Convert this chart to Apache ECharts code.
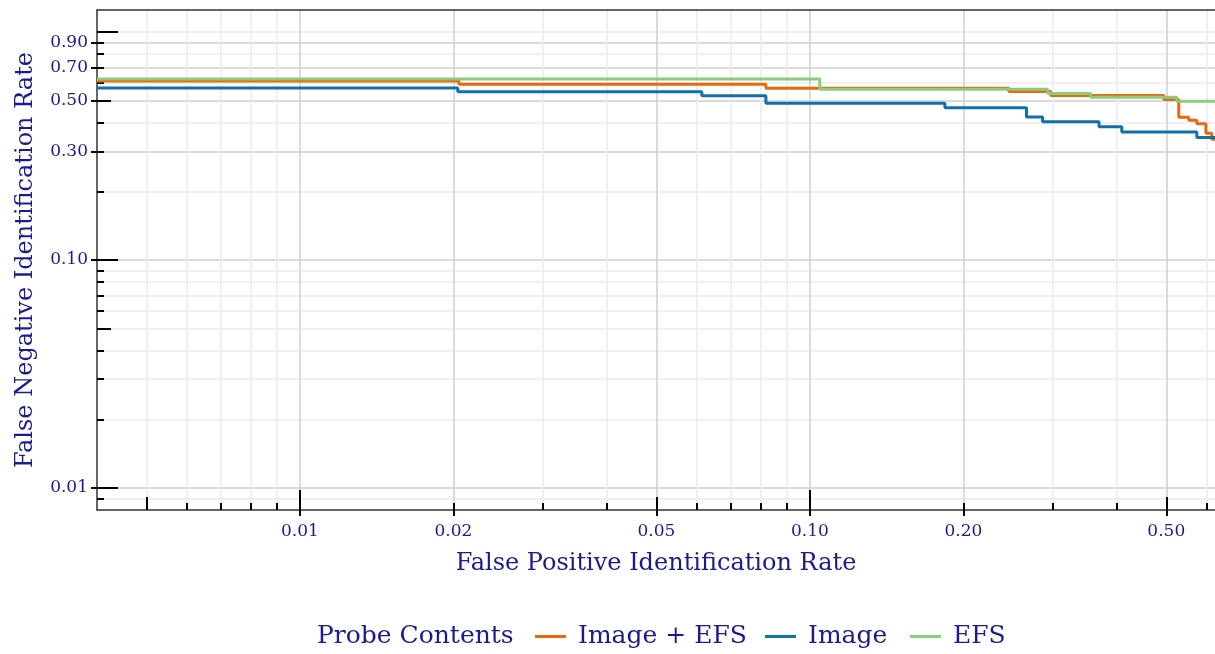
<!DOCTYPE html>
<html>
<head>
<meta charset="utf-8">
<script src="https://cdn.jsdelivr.net/npm/echarts@6/dist/echarts.min.js"></script>
<style>
html,body{margin:0;padding:0;background:#fff;}
#chart{width:1215px;height:654px;}
</style>
</head>
<body>
<div id="chart"></div>
<script>
// ---- data ----
const seriesNames = ['Image + EFS', 'Image', 'EFS'];
const imageEfs = [[0.004,0.610],[0.0205,0.590],[0.082,0.567],[0.2456,0.548],[0.2967,0.527],[0.4944,0.506],[0.529,0.423],[0.5535,0.410],[0.574,0.396],[0.598,0.3595],[0.614,0.339],[0.623,0.339]];
const imageOnly = [[0.004,0.568],[0.0204,0.547],[0.0614,0.526],[0.082,0.487],[0.184,0.466],[0.266,0.424],[0.286,0.404],[0.369,0.384],[0.409,0.364],[0.574,0.345],[0.623,0.345]];
const efsOnly = [[0.004,0.6225],[0.1046,0.561],[0.2928,0.5377],[0.3556,0.5174],[0.5243,0.4974],[0.623,0.4974]];

// tick values
const xLabelTicks = [0.01,0.02,0.05,0.1,0.2,0.5];
const xLongTicks = [0.01,0.1];
const xMidTicks = [0.005,0.05,0.5];
const xShortTicks = [0.006,0.007,0.008,0.009,0.02,0.03,0.04,0.06,0.07,0.08,0.09,0.2,0.3,0.4,0.6];
const xMinorGrid = [0.005,0.006,0.007,0.008,0.009,0.03,0.04,0.06,0.07,0.08,0.09,0.3,0.4,0.6];

const yLabelTicks = [0.01,0.1,0.3,0.5,0.7,0.9];
const yLongTicks = [0.01,0.1,1.0];
const yMidTicks = [0.05,0.5];
const yShortTicks = [0.009,0.02,0.03,0.04,0.06,0.07,0.08,0.09,0.2,0.3,0.4,0.6,0.7,0.8,0.9];
const yMinorGrid = [0.009,0.02,0.03,0.04,0.05,0.06,0.07,0.08,0.09,0.2,0.4,0.6,0.8,1.0];

const X_MIN = 0.004, X_MAX = 0.623;
const Y_MIN = 0.008, Y_MAX = 1.25;

const TXT = '#1b1b8f';
const FONT = 'DejaVu Serif';
const colors = ['#e8680f', '#1170aa', '#8acb7e'];

function baseAxis(kind, extra) {
  const a = {
    type: 'log', logBase: 10, gridIndex: 0,
    min: kind === 'x' ? X_MIN : Y_MIN,
    max: kind === 'x' ? X_MAX : Y_MAX,
    position: kind === 'x' ? 'bottom' : 'left',
    axisLine: {show: false},
    axisLabel: {show: false},
    axisTick: {show: false},
    splitLine: {show: false},
    minorTick: {show: false},
    minorSplitLine: {show: false}
  };
  return Object.assign(a, extra);
}
function tickAxis(kind, values, len) {
  return baseAxis(kind, {
    axisTick: {show: true, inside: true, length: len, customValues: values,
      lineStyle: {color: '#000', width: 2}},
    axisLabel: {show: false, customValues: values}
  });
}
function gridAxis(kind, values, color) {
  return baseAxis(kind, {
    axisTick: {show: false, customValues: values},
    axisLabel: {show: false, customValues: values},
    splitLine: {show: true, lineStyle: {color: color, width: 1.5}}
  });
}

const xAxes = [
  baseAxis('x', {
    name: 'False Positive Identification Rate',
    nameLocation: 'middle', nameGap: 42,
    nameTextStyle: {color: TXT, fontFamily: FONT, fontSize: 24},
    axisLine: {show: true, lineStyle: {color: '#333', width: 1.5}},
    axisTick: {show: true, inside: false, length: 6, customValues: xLabelTicks,
      lineStyle: {color: '#000', width: 2}},
    axisLabel: {show: true, customValues: xLabelTicks, margin: 13,
      color: TXT, fontFamily: FONT, fontSize: 17,
      formatter: v => Number(v).toFixed(2)},
    splitLine: {show: true, lineStyle: {color: '#cfcfcf', width: 1.5}}
  }),
  gridAxis('x', xMinorGrid, '#ebebeb'),
  tickAxis('x', xLongTicks, 20),
  tickAxis('x', xMidTicks, 13),
  tickAxis('x', xShortTicks, 7),
  {type: 'value', gridIndex: 0, position: 'top', min: 0, max: 1,
   axisLine: {show: true, onZero: false, lineStyle: {color: '#333', width: 1.5}},
   axisTick: {show: false}, axisLabel: {show: false}, splitLine: {show: false}}
];

const yAxes = [
  baseAxis('y', {
    name: 'False Negative Identification Rate',
    nameLocation: 'middle', nameGap: 59,
    nameTextStyle: {color: TXT, fontFamily: FONT, fontSize: 24},
    axisLine: {show: true, lineStyle: {color: '#333', width: 1.5}},
    axisTick: {show: true, inside: false, length: 6, customValues: yLabelTicks,
      lineStyle: {color: '#000', width: 2}},
    axisLabel: {show: true, customValues: yLabelTicks, margin: 9,
      color: TXT, fontFamily: FONT, fontSize: 17,
      formatter: v => Number(v).toFixed(2)},
    splitLine: {show: true, lineStyle: {color: '#cfcfcf', width: 1.5}}
  }),
  gridAxis('y', yMinorGrid, '#ebebeb'),
  tickAxis('y', yLongTicks, 21),
  tickAxis('y', yMidTicks, 14),
  tickAxis('y', yShortTicks, 7)
];

// minor grid axis first so it draws beneath the major grid
const xAxisList = [xAxes[1], xAxes[0], xAxes[2], xAxes[3], xAxes[4], xAxes[5]];
const yAxisList = [yAxes[1], yAxes[0], yAxes[2], yAxes[3], yAxes[4]];

const dataSets = [imageEfs, imageOnly, efsOnly];

const chart = echarts.init(document.getElementById('chart'), null, {renderer: 'canvas'});
chart.setOption({
  animation: false,
  backgroundColor: '#fff',
  grid: {left: 97, top: 10, right: 0, bottom: 144, containLabel: false},
  title: {text: 'Probe Contents', left: 312, top: 619,
    textStyle: {color: TXT, fontFamily: FONT, fontSize: 25, fontWeight: 'normal'}},
  legend: [
    {data: [seriesNames[0]], left: 530, top: 619},
    {data: [seriesNames[1]], left: 760, top: 619},
    {data: [seriesNames[2]], left: 905, top: 619}
  ].map(l => Object.assign(l, {
    icon: 'rect', itemWidth: 31, itemHeight: 3, orient: 'horizontal',
    textStyle: {color: TXT, fontFamily: FONT, fontSize: 25, padding: [0, 0, 0, 7]}
  })),
  xAxis: xAxisList,
  yAxis: yAxisList,
  series: dataSets.map((d, i) => ({
    name: seriesNames[i],
    type: 'line',
    step: 'end',
    xAxisIndex: 1,
    yAxisIndex: 1,
    data: d,
    showSymbol: false,
    symbol: 'none',
    color: colors[i],
    lineStyle: {width: 3, color: colors[i]},
    z: 3 + i
  }))
});
</script>
</body>
</html>
